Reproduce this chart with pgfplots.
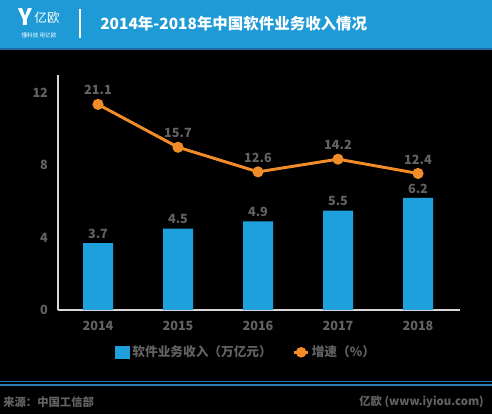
\documentclass[border=0pt]{standalone}
\usepackage{fontspec}
\setmainfont{Noto Sans CJK SC}
\usepackage{pgfplots}
\pgfplotsset{compat=1.18}
\definecolor{hdr}{RGB}{30,155,215}
\definecolor{hdrdark}{RGB}{28,105,160}
\definecolor{barblue}{RGB}{30,160,220}
\definecolor{lineorange}{RGB}{242,140,40}
\definecolor{txtgray}{RGB}{98,98,98}
\definecolor{axgray}{RGB}{215,215,215}
\definecolor{footblue}{RGB}{40,125,180}
\begin{document}
\begin{tikzpicture}[x=0.75pt,y=0.75pt]
% background
\fill[black] (0,0) rectangle (492,414);
% header
\fill[hdr] (0,366) rectangle (492,414);
\fill[hdrdark] (0,364) rectangle (492,366);
\node[white,font=\bfseries\fontsize{17}{17}\selectfont,inner sep=0] at (25,397) {Y};
\node[white,font=\fontsize{9.5}{10}\selectfont,inner sep=0] at (47,396) {亿欧};
\node[white,font=\fontsize{4.2}{5}\selectfont,inner sep=0] at (39,379) {懂科技\ 用亿欧};
\draw[white,line width=0.8pt] (80,405) -- (80,376);
\node[white,anchor=west,inner sep=0,font=\bfseries\fontsize{11.6}{13}\selectfont] at (100,390) {2014年-2018年中国软件业务收入情况};
% footer
\draw[footblue,line width=0.9pt] (0,32.5) -- (492,32.5);
\draw[footblue,line width=0.9pt] (0,29) -- (492,29);
\node[txtgray,anchor=west,inner sep=0,font=\bfseries\fontsize{8.5}{10}\selectfont] at (3,12) {来源：中国工信部};
\node[txtgray,anchor=east,inner sep=0,font=\bfseries\fontsize{8.5}{10}\selectfont] at (484,12) {亿欧 (www.iyiou.com)};
% bars
\begin{axis}[
  at={(43.5pt,78pt)}, anchor=south west,
  scale only axis, width=301.5pt, height=176.25pt,
  xmin=-0.5, xmax=4.525, ymin=0, ymax=13,
  axis x line*=bottom, axis y line*=left,
  axis line style={axgray, line width=1.6pt, -},
  xtick={0,1,2,3,4}, xticklabels={2014,2015,2016,2017,2018},
  ytick={0,4,8,12},
  major tick length=0pt,
  /pgf/number format/assume math mode=true,
  tick label style={txtgray, font=\bfseries\fontsize{9.5}{10}\selectfont},
  yticklabel style={xshift=-4pt},
  xticklabel style={yshift=-5pt},
  ybar, bar width=22.5pt,
  nodes near coords,
  nodes near coords style={txtgray, font=\bfseries\fontsize{9.5}{10}\selectfont, /pgf/number format/assume math mode=true, /pgf/number format/.cd, fixed, precision=1},
  clip=false,
]
\addplot[fill=barblue, draw=none] coordinates {(0,3.7) (1,4.5) (2,4.9) (3,5.5) (4,6.2)};
\end{axis}
% growth line
\begin{axis}[
  at={(43.5pt,78pt)}, anchor=south west,
  scale only axis, width=301.5pt, height=176.25pt,
  xmin=-0.5, xmax=4.525, ymin=-4.8, ymax=24.8,
  hide axis,
  clip=false,
  nodes near coords,
  nodes near coords style={txtgray, anchor=south, yshift=2.5pt, font=\bfseries\fontsize{9.5}{10}\selectfont, /pgf/number format/assume math mode=true, /pgf/number format/.cd, fixed, fixed zerofill, precision=1},
  legend columns=2,
  legend style={at={(0.468,-0.18)}, anchor=center, draw=none, fill=none, text=txtgray,
    font=\bfseries\fontsize{9.5}{10}\selectfont,
    /tikz/every even column/.append style={column sep=14pt}},
]
\addlegendimage{legend image code/.code={\fill[barblue] (0pt,-4.7pt) rectangle (11pt,4.8pt);}}
\addlegendentry{软件业务收入（万亿元）}
\addplot[lineorange, line width=2.2pt, mark=*, mark size=3pt, mark options={fill=lineorange, draw=lineorange},
  legend image code/.code={\draw[lineorange,line width=2pt] (0pt,0pt)--(10pt,0pt); \fill[lineorange] (5pt,0pt) circle (2.8pt);}]
  coordinates {(0,21.1) (1,15.7) (2,12.6) (3,14.2) (4,12.4)};
\addlegendentry{增速（\%）}
\end{axis}
\pgfresetboundingbox
\useasboundingbox (0,0) rectangle (492,414);
\end{tikzpicture}
\end{document}
